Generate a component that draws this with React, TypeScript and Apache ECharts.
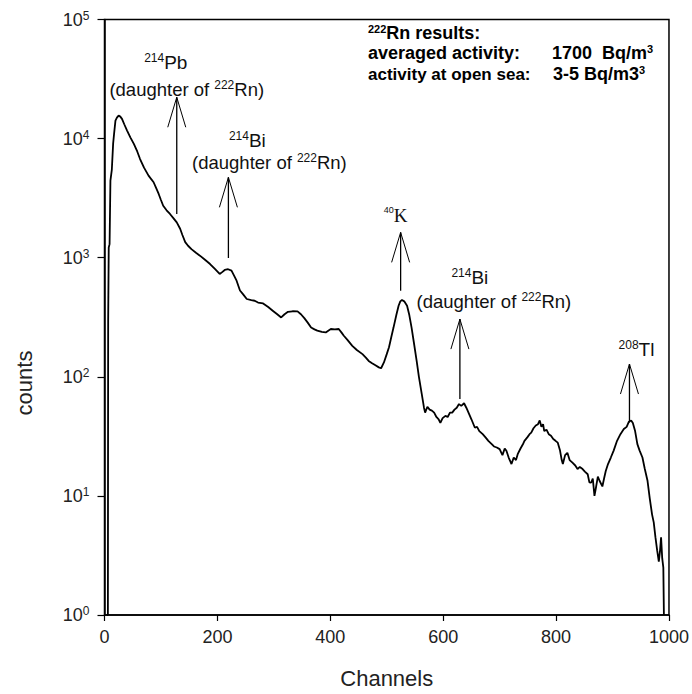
import React, { useEffect, useRef } from "react";
import * as echarts from "echarts";

// ---- spectrum data (channel, counts) ----
const channels = [
  4, 6, 6.5, 7.5, 9, 10.5, 13, 15.3, 17, 19.4, 22, 25, 28, 31, 35, 40, 46, 52, 58, 63, 70, 78, 87, 91, 96, 100,
  104, 110, 116, 122, 128, 134, 138, 143, 148, 154, 162, 169, 178, 187, 196, 204, 209, 213, 219, 225, 230, 234,
  240, 246, 252, 260, 266, 272, 281, 290, 298, 306, 313, 319, 325, 333, 342, 348, 354, 360, 366, 372, 377, 385,
  392, 397, 401, 408, 415, 420, 424, 430, 439, 447, 457, 463, 468, 474, 480, 486, 490, 495, 500, 504, 508, 512,
  517, 521, 524, 527, 531, 536, 540, 544, 548, 553, 557, 562, 566, 568, 572, 576, 580, 584, 588, 592, 595, 599,
  604, 608, 612, 616, 620, 624, 628, 632, 637, 641, 646, 650, 656, 660, 664, 670, 675, 680, 686, 690, 695, 700,
  705, 709, 712, 716, 721, 725, 729, 732, 737, 741, 744, 749, 753, 756, 760, 764, 768, 771, 774, 777, 779, 783,
  787, 791, 795, 799, 803, 807, 810, 812, 816, 820, 824, 829, 834, 838, 842, 847, 851, 856, 859, 862, 865, 868,
  871, 874, 877, 882, 885, 888, 892, 897, 902, 908, 914, 920, 925, 929, 933, 936, 940, 944, 948, 953, 957, 962,
  966, 970, 973, 976, 979, 982, 984, 986, 988, 990, 991,
];
const counts = [
  1, 1, 300, 1220, 1300, 4440, 5500, 9080, 11000, 14170, 15000, 15600, 15300, 14650, 13200, 11670, 10200, 9020,
  7800, 6740, 5700, 4890, 4300, 3900, 3430, 3050, 2730, 2500, 2330, 2150, 1980, 1750, 1550, 1350, 1260, 1180, 1100,
  1040, 960, 885, 800, 730, 760, 789, 800, 778, 700, 641, 530, 490, 450, 440, 435, 420, 413, 385, 359, 335, 315,
  335, 351, 355, 354, 335, 311, 285, 259, 250, 244, 238, 236, 245, 252, 250, 252, 235, 221, 205, 182, 168, 155,
  145, 136, 130, 125, 120, 118, 132, 155, 177, 215, 259, 330, 395, 430, 441, 430, 395, 330, 259, 195, 136, 100,
  72, 55, 50, 56, 53, 52, 50, 46, 44, 41, 45, 47, 46, 50, 50, 53, 55, 59, 57, 60, 55, 48.6, 44, 37.5, 38, 35, 33,
  31, 29, 27.2, 26, 25.5, 24.7, 22, 25, 23.9, 21, 18.5, 21, 20, 22.4, 25, 27, 29, 31, 33, 34, 37, 39, 40, 43, 38,
  40, 35, 36, 33, 32, 30, 29, 28, 24, 20, 18.5, 22, 23, 20, 19, 18, 16.8, 17.5, 16.8, 16, 15.2, 13, 12.9, 14, 10,
  12, 14.5, 13.4, 12, 14, 16.2, 18.5, 21, 24, 29, 33, 36.4, 38, 42, 43, 41, 35, 27.2, 24, 21, 17, 13.4, 9.5, 7, 6,
  4.5, 3.5, 2.8, 3.4, 4.5, 3, 2.5, 1,
];

// ---- peak annotations ----
const peakChannels = [128, 219.5, 524.6, 629.6, 930];
const arrowBase = [2330, 994, 528, 65, 41.3];
const arrowTip = [22240, 4730, 1632, 305, 128];
const isotopeMass = ["214", "214", "40", "214", "208"];
const isotopeSymbol = ["Pb", "Bi", "K", "Bi", "Tl"];
const isDaughter = [true, true, false, true, false];

// ---- axis ticks ----
const xTicks = [0, 200, 400, 600, 800, 1000];
const yMinExp = 0;
const yMaxExp = 5;

// label offsets relative to arrow tip (layout only)
const labelLayout: { sym: [number, number]; note?: [number, number] }[] = [
  { sym: [-11, -35], note: [10, -8] },
  { sym: [19, -37], note: [41, -15] },
  { sym: [-5, -17] },
  { sym: [10, -42], note: [34, -18] },
  { sym: [7, -15] },
];

const SANS = "'Liberation Sans', Arial, sans-serif";
const SERIF = "'Liberation Serif', 'Times New Roman', serif";

export default function App() {
  const ref = useRef<HTMLDivElement>(null);

  useEffect(() => {
    document.body.style.margin = "0";
    if (!ref.current) return;
    const chart = echarts.init(ref.current, undefined, { renderer: "svg" });

    const lineData = channels.map((c, i) => [c, counts[i]]);
    const annData = peakChannels.map((c, i) => [c, arrowBase[i], arrowTip[i], i]);

    const supBold = { fontFamily: SANS, fontSize: 11, fontWeight: "bold", fill: "#000", verticalAlign: "top", lineHeight: 11 };
    const baseBold = { fontFamily: SANS, fontSize: 18, fontWeight: "bold", fill: "#000", lineHeight: 20 };

    const option: any = {
      animation: false,
      backgroundColor: "#fff",
      grid: {
        left: 104.5,
        right: 18.5,
        top: 19.5,
        bottom: 77,
        show: true,
        borderColor: "#000",
        borderWidth: 1.5,
        backgroundColor: "transparent",
      },
      xAxis: {
        type: "value",
        min: xTicks[0],
        max: xTicks[xTicks.length - 1],
        interval: xTicks[1] - xTicks[0],
        name: "Channels",
        nameLocation: "middle",
        nameGap: 52,
        nameTextStyle: { fontFamily: SANS, fontSize: 22, color: "#222" },
        axisLine: { lineStyle: { color: "#000", width: 1.5 } },
        axisTick: { show: true, inside: false, length: 6, lineStyle: { color: "#000", width: 1.2 } },
        axisLabel: {
          fontFamily: SANS,
          fontSize: 18,
          color: "#222",
          margin: 13,
          formatter: (v: number) => String(Math.round(v)),
        },
        splitLine: { show: false },
      },
      yAxis: {
        type: "log",
        logBase: 10,
        min: Math.pow(10, yMinExp),
        max: Math.pow(10, yMaxExp),
        axisLine: { show: true, lineStyle: { color: "#000", width: 1.5 } },
        axisTick: { show: true, inside: false, length: 7, lineStyle: { color: "#000", width: 1.2 } },
        minorTick: { show: false },
        axisLabel: {
          margin: 15,
          formatter: (v: number) => {
            const e = Math.round(Math.log10(v));
            return "{b|10}{s|" + e + "}";
          },
          rich: {
            b: { fontFamily: SANS, fontSize: 18, color: "#222", lineHeight: 20 },
            s: { fontFamily: SANS, fontSize: 12, color: "#222", verticalAlign: "top", lineHeight: 12 },
          },
        },
        splitLine: { show: false },
      },
      graphic: [
        {
          type: "text",
          x: 24,
          y: 383,
          rotation: Math.PI / 2,
          style: {
            text: "counts",
            fontFamily: SANS,
            fontSize: 22,
            fill: "#222",
            align: "center",
            verticalAlign: "middle",
          },
        },
        {
          type: "text",
          x: 368,
          y: 33,
          style: {
            text: "{s|222}{b|Rn results:}",
            align: "left",
            verticalAlign: "middle",
            rich: { s: supBold, b: baseBold },
          },
        },
        {
          type: "text",
          x: 368,
          y: 53,
          style: {
            text: "averaged activity:",
            fontFamily: SANS,
            fontSize: 18,
            fontWeight: "bold",
            fill: "#000",
            align: "left",
            verticalAlign: "middle",
          },
        },
        {
          type: "text",
          x: 552,
          y: 53,
          style: {
            text: "{b|1700  Bq/m}{s|3}",
            align: "left",
            verticalAlign: "middle",
            rich: { s: supBold, b: baseBold },
          },
        },
        {
          type: "text",
          x: 368,
          y: 74,
          style: {
            text: "activity at open sea:",
            fontFamily: SANS,
            fontSize: 17,
            fontWeight: "bold",
            fill: "#000",
            align: "left",
            verticalAlign: "middle",
          },
        },
        {
          type: "text",
          x: 553,
          y: 74,
          style: {
            text: "{b|3-5 Bq/m3}{s|3}",
            align: "left",
            verticalAlign: "middle",
            rich: { s: supBold, b: baseBold },
          },
        },
      ],
      series: [
        {
          type: "line",
          data: lineData,
          showSymbol: false,
          symbol: "none",
          lineStyle: { color: "#000", width: 1.8 },
          z: 3,
        },
        {
          type: "custom",
          data: annData,
          encode: { x: 0, y: 2 },
          z: 4,
          renderItem: (params: any, api: any) => {
            const i = api.value(3);
            const tip = api.coord([api.value(0), api.value(2)]);
            const base = api.coord([api.value(0), api.value(1)]);
            const lay = labelLayout[i];
            const symFont = isotopeSymbol[i] === "K" ? SERIF : SANS;
            const children: any[] = [
              {
                type: "line",
                shape: { x1: base[0], y1: base[1], x2: tip[0], y2: tip[1] },
                style: { stroke: "#000", lineWidth: 1.3 },
              },
              {
                type: "polyline",
                shape: {
                  points: [
                    [tip[0] - 9, tip[1] + 30],
                    [tip[0], tip[1]],
                    [tip[0] + 9, tip[1] + 30],
                  ],
                },
                style: { stroke: "#000", fill: "none", lineWidth: 1 },
              },
              {
                type: "text",
                x: tip[0] + lay.sym[0],
                y: tip[1] + lay.sym[1],
                style: {
                  legacy: false,
                  text: "{s|" + isotopeMass[i] + "}{b|" + isotopeSymbol[i] + "}",
                  align: "center",
                  verticalAlign: "middle",
                  rich: {
                    s: {
                      fontFamily: SANS,
                      fontSize: isotopeSymbol[i] === "K" ? 9 : 12,
                      fill: "#111",
                      verticalAlign: "top",
                      lineHeight: 11,
                    },
                    b: { fontFamily: symFont, fontSize: 19, fill: "#111", lineHeight: 20 },
                  },
                },
              },
            ];
            if (isDaughter[i] && lay.note) {
              children.push({
                type: "text",
                x: tip[0] + lay.note[0],
                y: tip[1] + lay.note[1],
                style: {
                  legacy: false,
                  text: "{b|(daughter of }{s|222}{b|Rn)}",
                  align: "center",
                  verticalAlign: "middle",
                  rich: {
                    s: { fontFamily: SANS, fontSize: 12, fill: "#111", verticalAlign: "top", lineHeight: 11 },
                    b: { fontFamily: SANS, fontSize: 18.5, fill: "#111", lineHeight: 20 },
                  },
                },
              });
            }
            return { type: "group", children };
          },
        },
      ],
    };

    chart.setOption(option);
    return () => chart.dispose();
  }, []);

  return (
    <div
      ref={ref}
      style={{ position: "fixed", left: 0, top: 0, width: 692, height: 694, background: "#fff" }}
    />
  );
}
